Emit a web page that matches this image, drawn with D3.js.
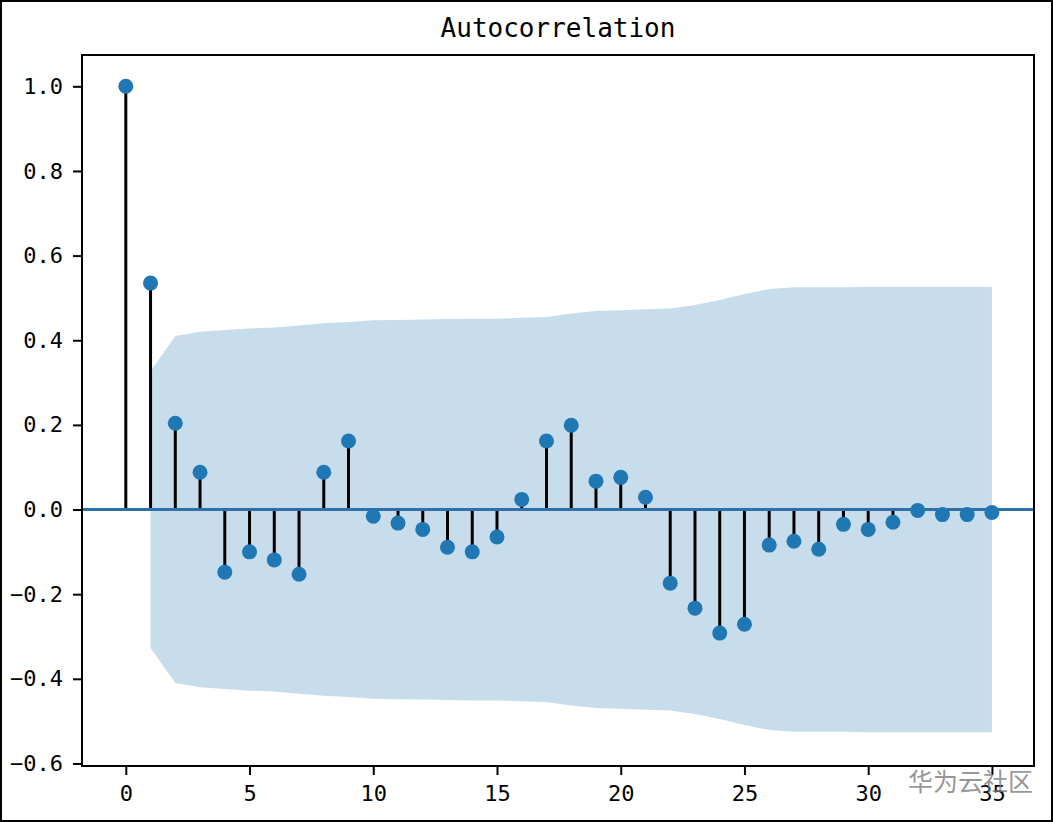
<!DOCTYPE html>
<html>
<head>
<meta charset="utf-8">
<script src="https://cdn.jsdelivr.net/npm/d3@7"></script>
<style>
  html, body { margin: 0; padding: 0; background: #fff; }
  svg { display: block; }
</style>
</head>
<body>
<svg id="chart" width="1053" height="822"></svg>
<script>
// ---- data ----
const lags = d3.range(0, 36);
const acfValues = [
  1.000, 0.535, 0.204, 0.088, -0.148, -0.100, -0.119, -0.153, 0.088, 0.162,
  -0.016, -0.032, -0.047, -0.089, -0.100, -0.065, 0.024, 0.162, 0.199, 0.067,
  0.076, 0.029, -0.174, -0.233, -0.292, -0.271, -0.084, -0.075, -0.094, -0.035,
  -0.047, -0.030, -0.002, -0.012, -0.012, -0.007
];
// half-width of the confidence band, lags 1..35
const bandLags = d3.range(1, 36);
const bandHalf = [
  0.327, 0.410, 0.420, 0.424, 0.428, 0.430, 0.435, 0.440, 0.443, 0.447,
  0.448, 0.449, 0.450, 0.451, 0.451, 0.453, 0.455, 0.463, 0.469, 0.471,
  0.473, 0.475, 0.483, 0.495, 0.509, 0.521, 0.525, 0.525, 0.525, 0.526,
  0.526, 0.526, 0.526, 0.526, 0.526
];
const xTicks = [0, 5, 10, 15, 20, 25, 30, 35];
const yTicks = [-0.6, -0.4, -0.2, 0.0, 0.2, 0.4, 0.6, 0.8, 1.0];
const titleText = "Autocorrelation";
const watermarkText = "华为云社区";

// ---- layout ----
const svg = d3.select("#chart");
const W = 1053, H = 822;
const plot = { left: 82, right: 1034, top: 55, bottom: 766 };

const x = d3.scaleLinear().domain([-1.77, 36.7]).range([plot.left, plot.right]);
const y = d3.scaleLinear().domain([-0.606, 1.074]).range([plot.bottom, plot.top]);

const C0 = "#1f77b4";
const monoFont = "'DejaVu Sans Mono', monospace";

svg.append("rect").attr("x", 0).attr("y", 0).attr("width", W).attr("height", H).attr("fill", "#fff");

const clip = svg.append("defs").append("clipPath").attr("id", "plotclip");
clip.append("rect").attr("x", plot.left).attr("y", plot.top)
  .attr("width", plot.right - plot.left).attr("height", plot.bottom - plot.top);

const g = svg.append("g").attr("clip-path", "url(#plotclip)");

// confidence band
const band = bandLags.map((l, i) => ({ lag: l, h: bandHalf[i] }));
g.append("path")
  .datum(band)
  .attr("d", d3.area().x(d => x(d.lag)).y0(d => y(-d.h)).y1(d => y(d.h)))
  .attr("fill", C0).attr("fill-opacity", 0.25);

// stems
const pts = lags.map((l, i) => ({ lag: l, v: acfValues[i] }));
g.selectAll("line.stem").data(pts).enter().append("line")
  .attr("class", "stem")
  .attr("x1", d => x(d.lag)).attr("x2", d => x(d.lag))
  .attr("y1", y(0)).attr("y2", d => y(d.v))
  .attr("stroke", "#000").attr("stroke-width", 3);

// zero line
g.append("line")
  .attr("x1", plot.left).attr("x2", plot.right)
  .attr("y1", y(0)).attr("y2", y(0))
  .attr("stroke", "#2d70aa").attr("stroke-width", 3);

// markers
g.selectAll("circle.pt").data(pts).enter().append("circle")
  .attr("class", "pt")
  .attr("cx", d => x(d.lag)).attr("cy", d => y(d.v))
  .attr("r", 7.5).attr("fill", C0);

// axes
const fmt = v => {
  const s = Math.abs(v).toFixed(1);
  return (v < -1e-9 ? "\u2212" : "") + s;
};
const yAxis = svg.append("g").attr("transform", `translate(${plot.left},0)`)
  .call(d3.axisLeft(y).tickValues(yTicks).tickFormat(fmt).tickSize(9).tickPadding(10));
const xAxis = svg.append("g").attr("transform", `translate(0,${plot.bottom})`)
  .call(d3.axisBottom(x).tickValues(xTicks).tickFormat(d3.format("d")).tickSize(9).tickPadding(10));

[yAxis, xAxis].forEach(a => {
  a.select(".domain").remove();
  a.selectAll(".tick line").attr("stroke", "#000").attr("stroke-width", 2);
  a.selectAll(".tick text").attr("fill", "#000")
    .style("font-family", monoFont).style("font-size", "22px");
});

// frame
svg.append("rect")
  .attr("x", plot.left).attr("y", plot.top)
  .attr("width", plot.right - plot.left).attr("height", plot.bottom - plot.top)
  .attr("fill", "none").attr("stroke", "#000").attr("stroke-width", 2);

// title
svg.append("text")
  .attr("x", (plot.left + plot.right) / 2).attr("y", 37)
  .attr("text-anchor", "middle")
  .style("font-family", monoFont).style("font-size", "26px")
  .attr("fill", "#000")
  .text(titleText);

// watermark
svg.append("text")
  .attr("x", 1033).attr("y", 791)
  .attr("text-anchor", "end")
  .style("font-family", "'Noto Sans CJK SC', sans-serif").style("font-size", "25px")
  .attr("fill", "#7a7a7a").attr("fill-opacity", 0.8)
  .text(watermarkText);

// outer border
svg.append("rect").attr("x", 1).attr("y", 1).attr("width", W - 2).attr("height", H - 2)
  .attr("fill", "none").attr("stroke", "#000").attr("stroke-width", 2);
</script>
</body>
</html>
